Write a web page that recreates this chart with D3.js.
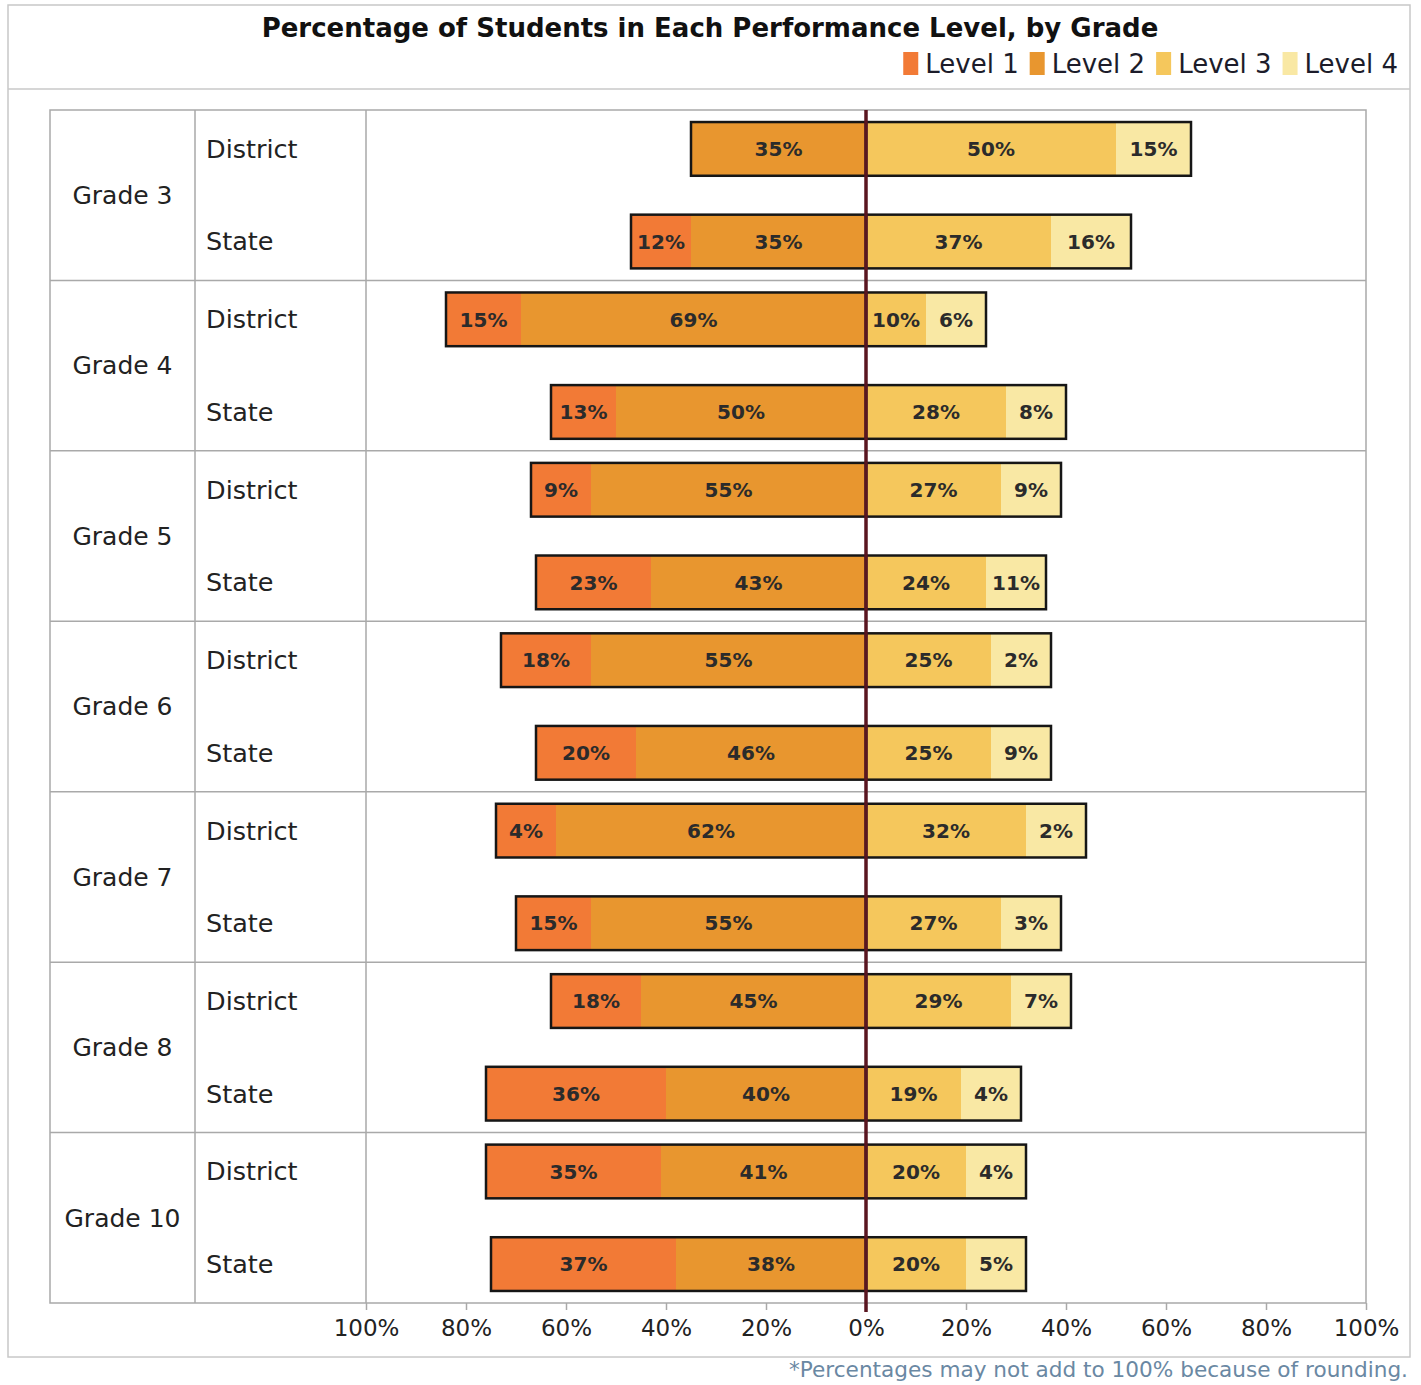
<!DOCTYPE html>
<html>
<head>
<meta charset="utf-8">
<script src="https://cdn.jsdelivr.net/npm/d3@7"></script>
<style>
  body { margin: 0; background: #fff; }
  svg text { font-family: "DejaVu Sans", Verdana, sans-serif; }
</style>
</head>
<body>
<div id="container"></div>
<script>
// Data (District / State rows, in grade order)
const grades = ["Grade 3", "Grade 4", "Grade 5", "Grade 6", "Grade 7", "Grade 8", "Grade 10"];
const groups = ["District", "State"];
const levels = ["Level 1", "Level 2", "Level 3", "Level 4"];
const level1 = [0, 12, 15, 13, 9, 23, 18, 20, 4, 15, 18, 36, 35, 37];
const level2 = [35, 35, 69, 50, 55, 43, 55, 46, 62, 55, 45, 40, 41, 38];
const level3 = [50, 37, 10, 28, 27, 24, 25, 25, 32, 27, 29, 19, 20, 20];
const level4 = [15, 16, 6, 8, 9, 11, 2, 9, 2, 3, 7, 4, 4, 5];
const tickValues = [-100, -80, -60, -40, -20, 0, 20, 40, 60, 80, 100];
const colors = ["#f27a36", "#e8962f", "#f5c75c", "#f9e8a4"];
const minShown = 12; // small segments are drawn wider so the label fits

// Dimensions
const width = 1421, height = 1385;
const tableLeft = 50, gradeRight = 195, plotLeft = 366, plotRight = 1366;
const plotTop = 110, plotBottom = 1303;

const svg = d3.select("#container")
  .append("svg")
  .attr("width", width)
  .attr("height", height);

// Build rows
const rows = [];
grades.forEach((g, i) => {
  groups.forEach((s, j) => {
    const k = i * 2 + j;
    rows.push({ grade: g, group: s, vals: [level1[k], level2[k], level3[k], level4[k]] });
  });
});

// Scales
const x = d3.scaleLinear().domain([-100, 100]).range([plotLeft, plotRight]);
const yGrade = d3.scaleBand().domain(grades).range([plotTop, plotBottom]);
const yGroup = d3.scaleBand().domain(groups).range([0, yGrade.bandwidth()])
  .paddingInner(0.42).paddingOuter(0.13);
const color = d3.scaleOrdinal().domain(levels).range(colors);

// Outer frame and header line
svg.append("rect")
  .attr("x", 8).attr("y", 5).attr("width", 1402).attr("height", 1352)
  .attr("fill", "none").attr("stroke", "#c8c8c8").attr("stroke-width", 1.5);
svg.append("line")
  .attr("x1", 8).attr("x2", 1410).attr("y1", 89).attr("y2", 89)
  .attr("stroke", "#c8c8c8").attr("stroke-width", 1.5);

// Title
svg.append("text")
  .attr("x", 710).attr("y", 37)
  .attr("text-anchor", "middle")
  .attr("font-size", 26).attr("font-weight", "bold").attr("fill", "#111")
  .text("Percentage of Students in Each Performance Level, by Grade");

// Legend (right aligned)
const legend = svg.append("g");
let lx = 0;
levels.forEach((lv, i) => {
  const item = legend.append("g").attr("transform", `translate(${lx},0)`);
  item.append("rect").attr("x", 0).attr("y", -21).attr("width", 15).attr("height", 23)
    .attr("fill", color(lv));
  const t = item.append("text").attr("x", 22).attr("y", 0)
    .attr("font-size", 26).attr("fill", "#1c1c2a").text(lv);
  lx += 22 + t.node().getComputedTextLength() + 11;
});
legend.attr("transform", `translate(${1398 - (lx - 11)},73)`);

// Table grid
const grid = svg.append("g").attr("stroke", "#a9a9a9").attr("stroke-width", 1.5).attr("fill", "none");
grid.append("rect")
  .attr("x", tableLeft).attr("y", plotTop)
  .attr("width", plotRight - tableLeft).attr("height", plotBottom - plotTop);
[gradeRight, plotLeft].forEach(v => {
  grid.append("line").attr("x1", v).attr("x2", v).attr("y1", plotTop).attr("y2", plotBottom);
});
grid.selectAll(".sep")
  .data(grades.slice(1))
  .join("line")
  .attr("class", "sep")
  .attr("x1", tableLeft).attr("x2", plotRight)
  .attr("y1", d => yGrade(d)).attr("y2", d => yGrade(d));

// Grade labels
svg.selectAll(".grade-label")
  .data(grades)
  .join("text")
  .attr("class", "grade-label")
  .attr("x", (tableLeft + gradeRight) / 2)
  .attr("y", d => yGrade(d) + yGrade.bandwidth() / 2)
  .attr("dy", "0.35em")
  .attr("text-anchor", "middle")
  .attr("font-size", 25).attr("fill", "#222")
  .text(d => d);

// District / State labels
svg.selectAll(".group-label")
  .data(rows)
  .join("text")
  .attr("class", "group-label")
  .attr("x", gradeRight + 11)
  .attr("y", d => yGrade(d.grade) + yGroup(d.group) + yGroup.bandwidth() / 2)
  .attr("dy", "0.35em")
  .attr("font-size", 25.5).attr("fill", "#222")
  .text(d => d.group);

// Segments: level 2 / level 1 to the left, level 3 / level 4 to the right
function segments(d) {
  const w = d.vals.map(v => v > 0 ? Math.max(v, minShown) : 0);
  const y0 = yGrade(d.grade) + yGroup(d.group);
  return [
    { level: levels[0], v: d.vals[0], a: -(w[1] + w[0]), b: -w[1], y0 },
    { level: levels[1], v: d.vals[1], a: -w[1], b: 0, y0 },
    { level: levels[2], v: d.vals[2], a: 0, b: w[2], y0 },
    { level: levels[3], v: d.vals[3], a: w[2], b: w[2] + w[3], y0 }
  ].filter(s => s.v > 0);
}

const bar = svg.selectAll(".bar")
  .data(rows)
  .join("g")
  .attr("class", "bar");

bar.selectAll("rect.seg")
  .data(segments)
  .join("rect")
  .attr("class", "seg")
  .attr("x", s => x(s.a))
  .attr("y", s => s.y0)
  .attr("width", s => x(s.b) - x(s.a))
  .attr("height", yGroup.bandwidth())
  .attr("fill", s => color(s.level));

bar.selectAll("text.seg-label")
  .data(segments)
  .join("text")
  .attr("class", "seg-label")
  .attr("x", s => (x(s.a) + x(s.b)) / 2)
  .attr("y", s => s.y0 + yGroup.bandwidth() / 2)
  .attr("dy", "0.36em")
  .attr("text-anchor", "middle")
  .attr("font-size", 20).attr("font-weight", "bold").attr("fill", "#2b2b2b")
  .text(s => s.v + "%");

// Outline of each half bar
bar.each(function(d) {
  const segs = segments(d);
  const y0 = yGrade(d.grade) + yGroup(d.group);
  const left = d3.min(segs, s => s.a);
  const right = d3.max(segs, s => s.b);
  const g = d3.select(this);
  [[left, 0], [0, right]].forEach(([a, b]) => {
    if (a === b) return;
    g.append("rect")
      .attr("x", x(a)).attr("y", y0)
      .attr("width", x(b) - x(a)).attr("height", yGroup.bandwidth())
      .attr("fill", "none").attr("stroke", "#161616").attr("stroke-width", 2.5);
  });
});

// Axis
const axis = svg.append("g")
  .attr("transform", `translate(0,${plotBottom})`)
  .call(d3.axisBottom(x).tickValues(tickValues).tickSize(7).tickPadding(10)
    .tickFormat(d => Math.abs(d) + "%"));
axis.select(".domain").remove();
axis.selectAll(".tick line").attr("stroke", "#a9a9a9").attr("stroke-width", 1.5);
axis.selectAll(".tick text")
  .attr("font-size", 23).attr("fill", "#222")
  .attr("font-family", "DejaVu Sans, Verdana, sans-serif");

// Zero line
svg.append("line")
  .attr("x1", x(0)).attr("x2", x(0))
  .attr("y1", plotTop).attr("y2", plotBottom + 9)
  .attr("stroke", "#5a1620").attr("stroke-width", 3.5);

// Footnote
svg.append("text")
  .attr("x", 1408).attr("y", 1377)
  .attr("text-anchor", "end")
  .attr("font-size", 21.6).attr("fill", "#6a88a3")
  .text("*Percentages may not add to 100% because of rounding.");
</script>
</body>
</html>
